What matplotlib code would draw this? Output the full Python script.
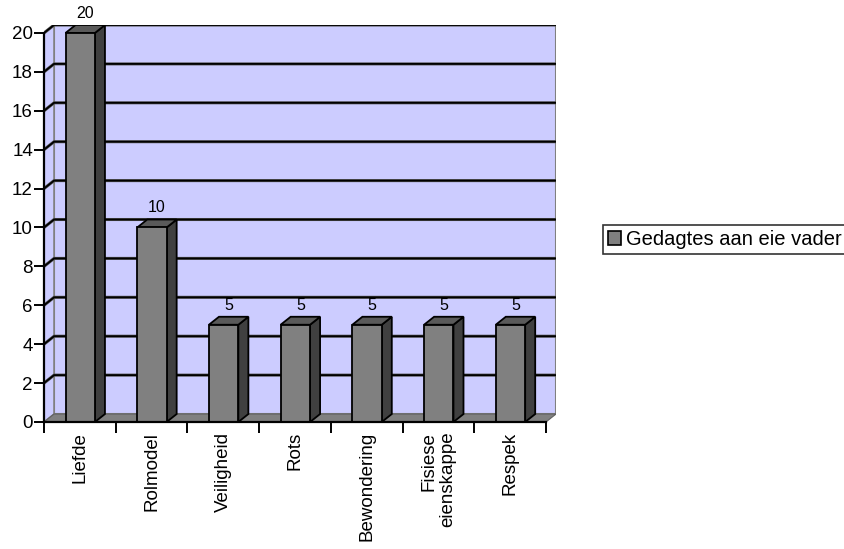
import matplotlib.pyplot as plt
from matplotlib.patches import Polygon, Patch

categories = ['Liefde', 'Rolmodel', 'Veiligheid', 'Rots', 'Bewondering',
              'Fisiese\neienskappe', 'Respek']
values = [20, 10, 5, 5, 5, 5, 5]
series_name = 'Gedagtes aan eie vader'
yticks = list(range(0, 21, 2))

plt.rcParams['font.family'] = ['Liberation Sans', 'DejaVu Sans']

fig = plt.figure(figsize=(8.45, 5.49), dpi=100)
ax = fig.add_axes([44 / 845, 127 / 549, 512 / 845, 397 / 549])

n = len(categories)
ymax = yticks[-1]
# depth offset of the fake 3d box, in data units
dx = 0.14
dy = 0.41
ax.set_xlim(0, n + dx)
ax.set_ylim(0, ymax + dy)

wall = '#CCCCFF'
# back wall + side wall
ax.add_patch(Polygon([(dx, dy), (n + dx, dy), (n + dx, ymax + dy), (dx, ymax + dy)],
                     closed=True, facecolor=wall, edgecolor='#808080', lw=1.5, zorder=0))
ax.add_patch(Polygon([(0, 0), (dx, dy), (dx, ymax + dy), (0, ymax)],
                     closed=True, facecolor=wall, edgecolor='#808080', lw=1.2, zorder=0))

# gridlines on the walls
for v in yticks[1:]:
    ax.plot([0, dx, n + dx], [v, v + dy, v + dy], color='#555555', lw=2.2, zorder=1,
            solid_capstyle='butt')
    ax.plot([0, dx, n + dx], [v, v + dy, v + dy], color='black', lw=1.3, zorder=1,
            solid_capstyle='butt')

# floor
ax.add_patch(Polygon([(0, 0), (n, 0), (n + dx, dy), (dx, dy)],
                     closed=True, facecolor='#808080', edgecolor='#606060', lw=0.8, zorder=2))

# bars
bw = 0.41
for i, v in enumerate(values):
    x0 = i + 0.3
    x1 = x0 + bw
    ax.add_patch(Polygon([(x1, 0), (x1 + dx, dy), (x1 + dx, v + dy), (x1, v)],
                         closed=True, facecolor='#404040', edgecolor='black', lw=1.3, zorder=3))
    ax.add_patch(Polygon([(x0, v), (x1, v), (x1 + dx, v + dy), (x0 + dx, v + dy)],
                         closed=True, facecolor='#5a5a5a', edgecolor='black', lw=1.3, zorder=3))
    ax.add_patch(Polygon([(x0, 0), (x1, 0), (x1, v), (x0, v)],
                         closed=True, facecolor='#808080', edgecolor='black', lw=1.3, zorder=4))
    ax.annotate(str(v), ((x0 + x1 + dx) / 2, v + dy), xytext=(0, 3), textcoords='offset points',
                ha='center', va='bottom', fontsize=11.5, zorder=5)

# axes
for s in ['top', 'right']:
    ax.spines[s].set_visible(False)
ax.spines['left'].set_bounds(0, ymax)
ax.spines['bottom'].set_bounds(0, n)
ax.spines['left'].set_linewidth(1.6)
ax.spines['bottom'].set_linewidth(1.6)
ax.spines['left'].set_zorder(6)
ax.spines['bottom'].set_zorder(6)

ax.set_yticks(yticks)
ax.set_yticklabels([str(t) for t in yticks], fontsize=13.5)
ax.tick_params(axis='y', length=7, width=1.4, pad=1)

ax.set_xticks([i + 0.5 for i in range(n)])
ax.set_xticklabels(categories, rotation=90, fontsize=13.5)
for lab in ax.get_xticklabels():
    lab.set_multialignment('right')
ax.set_xticks(range(n + 1), minor=True)
ax.tick_params(axis='x', which='major', length=0, pad=7)
ax.tick_params(axis='x', which='minor', length=8, width=1.4)

leg = fig.legend(handles=[Patch(facecolor='#808080', edgecolor='black', lw=1.2, label=series_name)],
                 loc='upper left', bbox_to_anchor=(603 / 845, 1 - 225 / 549),
                 frameon=True, fancybox=False, fontsize=14.5, borderpad=0.25,
                 handlelength=0.65, handleheight=0.65, handletextpad=0.25, borderaxespad=0)
leg.get_frame().set_edgecolor('black')
leg.get_frame().set_linewidth(1.2)

fig.savefig('out.png', dpi=100)
